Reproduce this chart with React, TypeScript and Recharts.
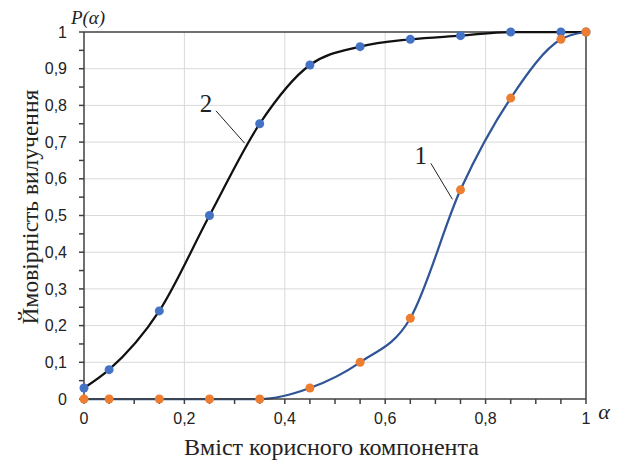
import React from 'react';
import { LineChart, Line, XAxis, YAxis, CartesianGrid, ReferenceLine, ReferenceDot } from 'recharts';

const alpha = [0, 0.05, 0.15, 0.25, 0.35, 0.45, 0.55, 0.65, 0.75, 0.85, 0.95, 1];
const curve1 = [0, 0, 0, 0, 0, 0.03, 0.1, 0.22, 0.57, 0.82, 0.98, 1];
const curve2 = [0.03, 0.08, 0.24, 0.5, 0.75, 0.91, 0.96, 0.98, 0.99, 1, 1, 1];
const xTicks = [0, 0.05, 0.1, 0.15, 0.2, 0.25, 0.3, 0.35, 0.4, 0.45, 0.5, 0.55, 0.6, 0.65, 0.7, 0.75, 0.8, 0.85, 0.9, 0.95, 1];
const yTicks = [0, 0.05, 0.1, 0.15, 0.2, 0.25, 0.3, 0.35, 0.4, 0.45, 0.5, 0.55, 0.6, 0.65, 0.7, 0.75, 0.8, 0.85, 0.9, 0.95, 1];
const xGrid = [0.2, 0.4, 0.6, 0.8];
const yGrid = [0.1, 0.2, 0.3, 0.4, 0.5, 0.6, 0.7, 0.8, 0.9];
const yTitle = 'Ймовірність вилучення';
const xTitle = 'Вміст корисного компонента';

const data = alpha.map((a, i) => ({ a, p1: curve1[i], p2: curve2[i] }));

const fmt = (v: number) => String(+v.toFixed(2)).replace('.', ',');
const xFmt = (v: number) => (Math.round(v * 100) % 20 === 0 ? fmt(v) : '');
const yFmt = (v: number) => (Math.round(v * 100) % 10 === 0 ? fmt(v) : '');

const AXIS = '#404040';
const serif = '"Liberation Serif", "DejaVu Serif", serif';
const sans = '"Liberation Sans", Arial, sans-serif';

const textLabel = (txt: string, size: number, italic = false, rotate = 0) => (props: any) => {
  const vb = props.viewBox || {};
  const cx = vb.x + (vb.width || 0) / 2;
  const cy = vb.y + (vb.height || 0) / 2;
  return (
    <text
      x={cx}
      y={cy}
      textAnchor="middle"
      dominantBaseline="central"
      transform={rotate ? `rotate(${rotate} ${cx} ${cy})` : undefined}
      fontFamily={serif}
      fontSize={size}
      fontStyle={italic ? 'italic' : 'normal'}
      fill="#222"
    >
      {txt}
    </text>
  );
};

export default function App() {
  return (
    <div style={{ position: 'absolute', left: 0, top: 0, width: 620, height: 460, background: '#fff' }}>
      <LineChart width={620} height={460} data={data} margin={{ top: 32, right: 34, left: 0, bottom: 0 }}>
        <CartesianGrid stroke="#d9d9d9" strokeWidth={1} horizontalValues={yGrid} verticalValues={xGrid} />
        <XAxis
          dataKey="a"
          type="number"
          domain={[0, 1]}
          ticks={xTicks}
          tickFormatter={xFmt}
          interval={0}
          height={61}
          stroke={AXIS}
          strokeWidth={1.5}
          tickSize={5}
          tickMargin={9}
          tick={{ fill: '#222', fontSize: 16, fontFamily: sans }}
        />
        <YAxis
          type="number"
          domain={[0, 1]}
          ticks={yTicks}
          tickFormatter={yFmt}
          interval={0}
          width={84}
          stroke={AXIS}
          strokeWidth={1.5}
          tickSize={5}
          tickMargin={12}
          tick={{ fill: '#222', fontSize: 16, fontFamily: sans }}
        />
        <ReferenceLine y={1} stroke={AXIS} strokeWidth={1.5} />
        <ReferenceLine x={1} stroke={AXIS} strokeWidth={1.5} />
        <ReferenceLine segment={[{ x: 0.263, y: 0.785 }, { x: 0.32, y: 0.697 }]} stroke="#222" strokeWidth={1} />
        <ReferenceLine segment={[{ x: 0.691, y: 0.642 }, { x: 0.734, y: 0.544 }]} stroke="#222" strokeWidth={1} />
        <ReferenceDot x={0.243} y={0.804} r={0} fill="none" stroke="none" label={textLabel('2', 25)} />
        <ReferenceDot x={0.671} y={0.663} r={0} fill="none" stroke="none" label={textLabel('1', 25)} />
        <ReferenceDot x={0.008} y={1.04} r={0} fill="none" stroke="none" ifOverflow="visible" label={textLabel('P(α)', 19, true)} />
        <ReferenceDot x={1.036} y={-0.035} r={0} fill="none" stroke="none" ifOverflow="visible" label={textLabel('α', 22, true)} />
        <ReferenceDot x={0.493} y={-0.13} r={0} fill="none" stroke="none" ifOverflow="visible" label={textLabel(xTitle, 24)} />
        <ReferenceDot x={-0.108} y={0.523} r={0} fill="none" stroke="none" ifOverflow="visible" label={textLabel(yTitle, 23.5, false, -90)} />
        <Line
          type="monotone"
          dataKey="p2"
          stroke="#111"
          strokeWidth={2.25}
          dot={{ r: 4.5, fill: '#4472C4', stroke: 'none' }}
          isAnimationActive={false}
        />
        <Line
          type="monotone"
          dataKey="p1"
          stroke="#2F5597"
          strokeWidth={2.25}
          dot={{ r: 4.5, fill: '#ED7D31', stroke: 'none' }}
          isAnimationActive={false}
        />
      </LineChart>
    </div>
  );
}
